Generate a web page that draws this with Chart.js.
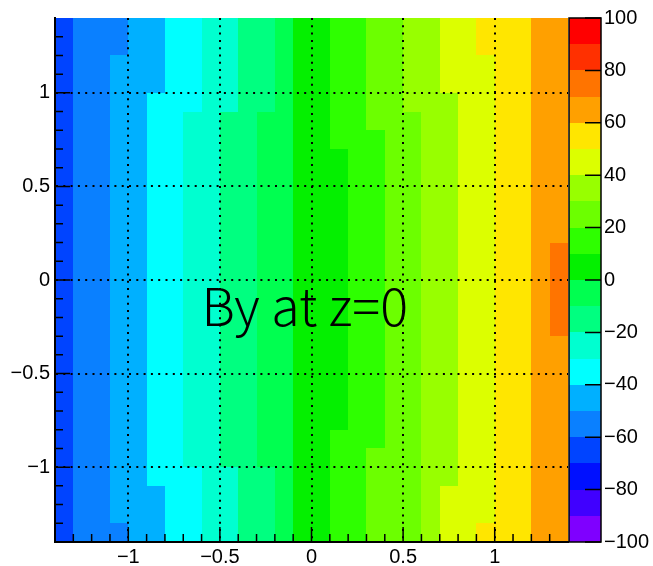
<!DOCTYPE html>
<html>
<head>
<meta charset="utf-8">
<script src="https://cdn.jsdelivr.net/npm/chart.js@4/dist/chart.umd.min.js"></script>
<style>
  html, body { margin: 0; padding: 0; background: #fff; }
</style>
</head>
<body>
<canvas id="hist" width="653" height="566"></canvas>
<script>
// bin edges, same for x and y
const binEdges = [-1.4, -1.3, -1.2, -1.1, -1.0, -0.9, -0.8, -0.7, -0.6, -0.5, -0.4, -0.3, -0.2, -0.1, 0,
                  0.1, 0.2, 0.3, 0.4, 0.5, 0.6, 0.7, 0.8, 0.9, 1.0, 1.1, 1.2, 1.3, 1.4];
const axisTicks = [-1, -0.5, 0, 0.5, 1];

// colour scale (contour levels and palette, bottom to top)
const zLevels = [-100, -90, -80, -70, -60, -50, -40, -30, -20, -10, 0, 10, 20, 30, 40, 50, 60, 70, 80, 90, 100];
const zTicks = [-100, -80, -60, -40, -20, 0, 20, 40, 60, 80, 100];
const palette = ['#7f00ff', '#4000ff', '#0010ff', '#0044ff', '#0a80ff', '#00b0ff', '#00ffff', '#00ffd0',
                 '#00ff80', '#00ff50', '#04f000', '#2eff00', '#6cff00', '#98ff00', '#dcff00', '#ffe600',
                 '#ffa000', '#ff7400', '#ff3000', '#ff0000'];

// By at z=0, rows from top (y = 1.4) to bottom (y = -1.4)
const byRows = [
  [-65,-55,-55,-55,-45,-45,-35,-35,-25,-25,-15,-15,-5,5,5,15,15,25,25,35,35,45,45,55,55,55,65,65],
  [-65,-55,-55,-55,-45,-45,-35,-35,-25,-25,-15,-15,-5,5,5,15,15,25,25,35,35,45,45,55,55,55,65,65],
  [-65,-55,-55,-45,-45,-45,-35,-35,-25,-25,-15,-15,-5,5,5,15,15,25,25,35,35,45,45,45,55,55,65,65],
  [-65,-55,-55,-45,-45,-45,-35,-35,-25,-25,-15,-15,-5,5,5,15,15,25,25,35,35,45,45,45,55,55,65,65],
  [-65,-55,-55,-45,-45,-35,-35,-35,-25,-25,-15,-15,-5,5,5,15,15,25,25,35,35,35,45,45,55,55,65,65],
  [-65,-55,-55,-45,-45,-35,-35,-25,-25,-15,-15,-5,-5,5,5,15,15,25,25,25,35,35,45,45,55,55,65,65],
  [-65,-55,-55,-45,-45,-35,-35,-25,-25,-15,-15,-5,-5,5,5,15,15,15,25,25,35,35,45,45,55,55,65,65],
  [-65,-55,-55,-45,-45,-35,-35,-25,-25,-15,-15,-5,-5,5,5,5,15,15,25,25,35,35,45,45,55,55,65,65],
  [-65,-55,-55,-45,-45,-35,-35,-25,-25,-15,-15,-5,-5,5,5,5,15,15,25,25,35,35,45,45,55,55,65,65],
  [-65,-55,-55,-45,-45,-35,-35,-25,-25,-15,-15,-5,-5,5,5,5,15,15,25,25,35,35,45,45,55,55,65,65],
  [-65,-55,-55,-45,-45,-35,-35,-25,-25,-15,-15,-5,-5,5,5,5,15,15,25,25,35,35,45,45,55,55,65,65],
  [-65,-55,-55,-45,-45,-35,-35,-25,-25,-15,-15,-5,-5,5,5,5,15,15,25,25,35,35,45,45,55,55,65,65],
  [-65,-55,-55,-45,-45,-35,-35,-25,-25,-15,-15,-5,-5,5,5,5,15,15,25,25,35,35,45,45,55,55,65,75],
  [-65,-55,-55,-45,-45,-35,-35,-25,-25,-15,-15,-5,-5,5,5,5,15,15,25,25,35,35,45,45,55,55,65,75],
  [-65,-55,-55,-45,-45,-35,-35,-25,-25,-15,-15,-5,-5,5,5,5,15,15,25,25,35,35,45,45,55,55,65,75],
  [-65,-55,-55,-45,-45,-35,-35,-25,-25,-15,-15,-5,-5,5,5,5,15,15,25,25,35,35,45,45,55,55,65,75],
  [-65,-55,-55,-45,-45,-35,-35,-25,-25,-15,-15,-5,-5,5,5,5,15,15,25,25,35,35,45,45,55,55,65,75],
  [-65,-55,-55,-45,-45,-35,-35,-25,-25,-15,-15,-5,-5,5,5,5,15,15,25,25,35,35,45,45,55,55,65,65],
  [-65,-55,-55,-45,-45,-35,-35,-25,-25,-15,-15,-5,-5,5,5,5,15,15,25,25,35,35,45,45,55,55,65,65],
  [-65,-55,-55,-45,-45,-35,-35,-25,-25,-15,-15,-5,-5,5,5,5,15,15,25,25,35,35,45,45,55,55,65,65],
  [-65,-55,-55,-45,-45,-35,-35,-25,-25,-15,-15,-5,-5,5,5,5,15,15,25,25,35,35,45,45,55,55,65,65],
  [-65,-55,-55,-45,-45,-35,-35,-25,-25,-15,-15,-5,-5,5,5,5,15,15,25,25,35,35,45,45,55,55,65,65],
  [-65,-55,-55,-45,-45,-35,-35,-25,-25,-15,-15,-5,-5,5,5,15,15,15,25,25,35,35,45,45,55,55,65,65],
  [-65,-55,-55,-45,-45,-35,-35,-25,-25,-15,-15,-5,-5,5,5,15,15,25,25,25,35,35,45,45,55,55,65,65],
  [-65,-55,-55,-45,-45,-35,-35,-35,-25,-25,-15,-15,-5,5,5,15,15,25,25,25,35,35,45,45,55,55,65,65],
  [-65,-55,-55,-45,-45,-45,-35,-35,-25,-25,-15,-15,-5,5,5,15,15,25,25,25,35,45,45,45,55,55,65,65],
  [-65,-55,-55,-45,-45,-45,-35,-35,-25,-25,-15,-15,-5,5,5,15,15,25,25,25,35,45,45,45,55,55,65,65],
  [-65,-55,-55,-55,-45,-45,-35,-35,-25,-25,-15,-15,-5,5,5,15,15,25,25,25,35,45,45,55,55,55,65,65]
];

const label = 'By at z=0';
const tickFont = { family: '"Liberation Sans", Arial, sans-serif', size: 20 };

function colourFor(v) {
  for (let k = 0; k < palette.length; k++) {
    if (v >= zLevels[k] && v < zLevels[k + 1]) return palette[k];
  }
  return v < zLevels[0] ? palette[0] : palette[palette.length - 1];
}

function fmt(v) {
  return (v < 0 ? '\u2212' : '') + Math.abs(v);
}

// no extra room for overhanging labels, the frame is placed by hand
function noPad(s) {
  s.paddingTop = 0; s.paddingBottom = 0; s.paddingLeft = 0; s.paddingRight = 0;
}

// cell centres, only used so the dataset has points
const centres = [];
byRows.forEach((row, j) => {
  row.forEach((v, i) => {
    centres.push({ x: (binEdges[i] + binEdges[i + 1]) / 2, y: (binEdges[27 - j] + binEdges[28 - j]) / 2, v: v });
  });
});

const heatmap = {
  id: 'heatmap',
  beforeDatasetsDraw(chart) {
    const { ctx, scales: { x, y } } = chart;
    const n = binEdges.length - 1;
    byRows.forEach((row, j) => {
      const y0 = Math.round(y.getPixelForValue(binEdges[n - j]));
      const y1 = Math.round(y.getPixelForValue(binEdges[n - j - 1]));
      row.forEach((v, i) => {
        const x0 = Math.round(x.getPixelForValue(binEdges[i]));
        const x1 = Math.round(x.getPixelForValue(binEdges[i + 1]));
        ctx.fillStyle = colourFor(v);
        ctx.fillRect(x0, y0, x1 - x0, y1 - y0);
      });
    });
    // title text inside the frame
    ctx.save();
    ctx.fillStyle = '#000';
    ctx.font = '300 52px "Noto Sans CJK JP", "Noto Sans", sans-serif';
    ctx.textBaseline = 'alphabetic';
    ctx.fillText(label, x.getPixelForValue(-0.6), y.getPixelForValue(-0.245));
    ctx.restore();
  },
  afterDraw(chart) {
    const { ctx, scales: { x, y, z }, chartArea: a } = chart;
    ctx.save();
    ctx.strokeStyle = '#000';
    ctx.lineWidth = 1.5;
    // tick marks pointing into the frame
    ctx.beginPath();
    binEdges.slice(1, -1).forEach(v => {
      const major = axisTicks.some(t => Math.abs(t - v) < 1e-6);
      const len = major ? 15 : 8;
      const px = x.getPixelForValue(v);
      ctx.moveTo(px, a.bottom);
      ctx.lineTo(px, a.bottom - len);
      const py = y.getPixelForValue(v);
      ctx.moveTo(a.left, py);
      ctx.lineTo(a.left + len, py);
    });
    ctx.stroke();

    // colour bar
    const bx0 = a.right + 1, bx1 = a.right + 33;
    for (let k = 0; k < palette.length; k++) {
      const t = Math.round(z.getPixelForValue(zLevels[k + 1]));
      const b = Math.round(z.getPixelForValue(zLevels[k]));
      ctx.fillStyle = palette[k];
      ctx.fillRect(bx0, t, bx1 - bx0, b - t);
    }
    ctx.strokeRect(bx0, z.getPixelForValue(100), bx1 - bx0, z.getPixelForValue(-100) - z.getPixelForValue(100));
    ctx.beginPath();
    zTicks.forEach(v => {
      const py = z.getPixelForValue(v);
      ctx.moveTo(bx1, py);
      ctx.lineTo(bx1 - 16, py);
    });
    ctx.stroke();
    ctx.restore();
  }
};

new Chart(document.getElementById('hist'), {
  type: 'scatter',
  data: {
    datasets: [{ data: centres, pointRadius: 0, pointHoverRadius: 0 }]
  },
  options: {
    responsive: false,
    animation: false,
    devicePixelRatio: 1,
    layout: { padding: { top: 18, left: 0, right: 0, bottom: 0 } },
    plugins: { legend: { display: false }, tooltip: { enabled: false } },
    scales: {
      x: {
        type: 'linear', position: 'bottom', min: -1.4, max: 1.4,
        afterBuildTicks: s => { s.ticks = axisTicks.map(v => ({ value: v })); },
        afterFit: s => { s.height = 24; noPad(s); },
        grid: { color: '#000', lineWidth: 2, drawTicks: false, z: 1 },
        border: { display: true, color: '#000', width: 2, dash: [2, 5.3], z: 1 },
        ticks: { font: tickFont, color: '#000', padding: 3, maxRotation: 0, autoSkip: false, callback: fmt }
      },
      y: {
        type: 'linear', position: 'left', min: -1.4, max: 1.4,
        afterBuildTicks: s => { s.ticks = axisTicks.map(v => ({ value: v })); },
        afterFit: s => { s.width = 55; noPad(s); },
        grid: { color: '#000', lineWidth: 2, drawTicks: false, z: 1 },
        border: { display: true, color: '#000', width: 2, dash: [2, 5.3], z: 1 },
        ticks: { font: tickFont, color: '#000', padding: 5, autoSkip: false, callback: fmt }
      },
      z: {
        type: 'linear', position: 'right', min: -100, max: 100, display: true,
        afterBuildTicks: s => { s.ticks = zTicks.map(v => ({ value: v })); },
        afterFit: s => { s.width = 85; noPad(s); },
        grid: { display: false, drawTicks: false },
        border: { display: false },
        ticks: { font: tickFont, color: '#000', padding: 36, autoSkip: false, callback: fmt }
      }
    }
  },
  plugins: [heatmap]
});
</script>
</body>
</html>
